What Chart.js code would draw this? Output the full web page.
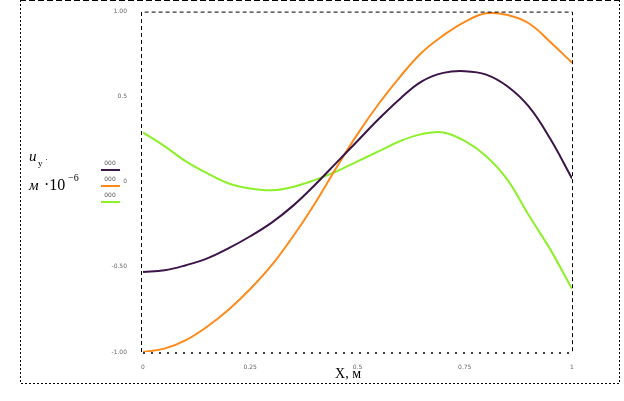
<!DOCTYPE html>
<html><head><meta charset="utf-8">
<script src="https://cdn.jsdelivr.net/npm/chart.js@4"></script>
<style>html,body{margin:0;padding:0;background:#fff;}#c{display:block;}</style>
</head><body>
<canvas id="c" width="624" height="401"></canvas>
<script>
const xValues = [0,0.05,0.1,0.15,0.2,0.25,0.3,0.35,0.4,0.45,0.5,0.55,0.6,0.65,0.7,0.75,0.8,0.85,0.9,0.95,1];
const seriesPurple = [-0.53,-0.52,-0.49,-0.45,-0.39,-0.32,-0.24,-0.14,-0.02,0.11,0.24,0.37,0.49,0.59,0.64,0.65,0.63,0.56,0.44,0.25,0.02];
const seriesOrange = [-1.00,-0.98,-0.93,-0.85,-0.75,-0.63,-0.49,-0.32,-0.13,0.08,0.28,0.46,0.62,0.76,0.86,0.94,0.99,0.98,0.93,0.82,0.70];
const seriesGreen = [0.29,0.21,0.12,0.05,-0.01,-0.04,-0.05,-0.03,0.01,0.06,0.12,0.18,0.24,0.28,0.29,0.24,0.15,0.01,-0.20,-0.40,-0.63];
const yTickLabels = {"-1":"-1.00","-0.5":"-0.50","0":"0","0.5":"0.5","1":"1.00"};
const xTickLabels = {"0":"0","0.25":"0.25","0.5":"0.5","0.75":"0.75","1":"1"};
const legendLabels = ["000","000","000"];

const toPts = arr => arr.map((v,i)=>({x:xValues[i], y:v}));
const mk = (data,color) => ({data:toPts(data), borderColor:color, borderWidth:2, pointRadius:0, tension:0.4, fill:false});

const framePlugin = {
  id:'frame',
  afterDraw(chart){
    const ctx = chart.ctx, a = chart.chartArea;
    ctx.save();
    ctx.strokeStyle = '#000';
    ctx.lineWidth = 1;
    ctx.setLineDash([6,3]);
    ctx.beginPath(); ctx.moveTo(20,0.5); ctx.lineTo(620,0.5); ctx.stroke();
    ctx.setLineDash([2,2]);
    ctx.beginPath(); ctx.moveTo(20.5,0); ctx.lineTo(20.5,383.5); ctx.lineTo(619.5,383.5); ctx.lineTo(619.5,0); ctx.stroke();
    ctx.setLineDash([4,3]);
    ctx.beginPath(); ctx.moveTo(a.left-1.5,a.bottom); ctx.lineTo(a.left-1.5,a.top+0.5); ctx.lineTo(a.right+0.5,a.top+0.5); ctx.lineTo(a.right+0.5,a.bottom); ctx.stroke();
    ctx.setLineDash([2,6]);
    ctx.lineWidth = 1.5;
    ctx.beginPath(); ctx.moveTo(a.left,a.bottom+1); ctx.lineTo(a.right,a.bottom+1); ctx.stroke();
    ctx.setLineDash([]);
    const cols = chart.data.datasets.map(d=>d.borderColor);
    const ly = [170,186,202];
    ctx.font = '6px "DejaVu Sans"';
    ctx.fillStyle = '#555';
    ctx.textAlign = 'center';
    for (let i=0;i<3;i++){
      ctx.fillText(legendLabels[i],110,ly[i]-5);
      ctx.strokeStyle = cols[i]; ctx.lineWidth = 2;
      ctx.beginPath(); ctx.moveTo(101,ly[i]); ctx.lineTo(120,ly[i]); ctx.stroke();
    }
    ctx.fillStyle = '#000';
    ctx.textAlign = 'left';
    ctx.font = 'italic 15px "Liberation Serif"';
    ctx.fillText('u', 29, 161);
    ctx.font = '9px "Liberation Serif"';
    ctx.fillText('y', 38, 166);
    ctx.fillText('·', 45, 162);
    ctx.font = 'italic 15px "Liberation Serif"';
    ctx.fillText('м', 29, 190);
    ctx.font = '16px "Liberation Serif"';
    ctx.fillText('·10', 44, 190);
    ctx.font = '10px "Liberation Serif"';
    ctx.fillText('−6', 68, 181);
    ctx.font = '14px "Liberation Serif"';
    ctx.textAlign = 'center';
    ctx.fillText('X, м', 348, 378);
    ctx.restore();
  }
};

new Chart(document.getElementById('c'), {
  type:'line',
  data:{datasets:[mk(seriesPurple,'#3b1448'), mk(seriesOrange,'#ff8a1a'), mk(seriesGreen,'#8cf02a')]},
  options:{
    responsive:false, animation:false,
    layout:{padding:{top:10,right:52,bottom:0,left:0}},
    plugins:{legend:{display:false}, tooltip:{enabled:false}},
    scales:{
      x:{type:'linear', min:0, max:1,
        grid:{display:false}, border:{display:false},
        afterBuildTicks(s){ s.ticks = Object.keys(xTickLabels).map(v=>({value:+v})); },
        ticks:{font:{size:6, family:'DejaVu Sans'}, color:'#666', padding:4, maxRotation:0,
          callback:v=>xTickLabels[String(v)] ?? ''},
        afterFit(s){ s.height = 49; }
      },
      y:{min:-1, max:1,
        grid:{display:false}, border:{display:false},
        afterBuildTicks(s){ s.ticks = Object.keys(yTickLabels).map(v=>({value:+v})); },
        ticks:{font:{size:6, family:'DejaVu Sans'}, color:'#666', padding:8,
          callback:v=>yTickLabels[String(v)] ?? ''},
        afterFit(s){ s.width = 143; }
      }
    }
  },
  plugins:[framePlugin]
});
</script>
</body></html>
